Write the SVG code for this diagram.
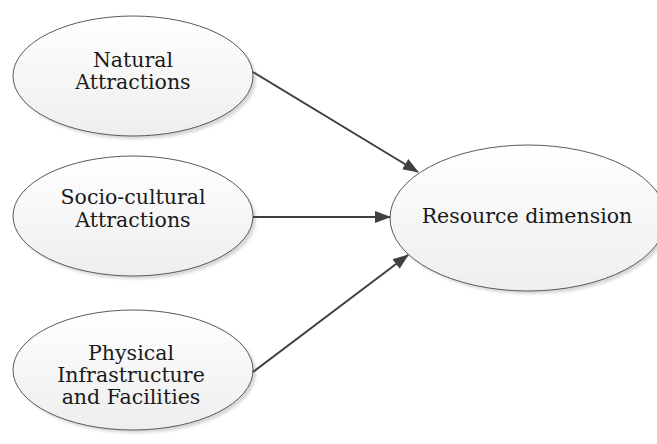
<svg xmlns="http://www.w3.org/2000/svg" width="657" height="444" viewBox="0 0 657 444">
  <style>
    .node { fill: url(#nodeFill); stroke: #5a5a5a; stroke-width: 1; }
    .shadow { fill: #d6d6d6; filter: url(#soft); }
    .label { font-family: "DejaVu Serif", "Liberation Serif", serif; font-size: 20.5px; fill: #1a1a1a; text-anchor: middle; }
    .edge { stroke: #404040; stroke-width: 2; fill: none; marker-end: url(#arrow); }
  </style>
  <defs>
    <linearGradient id="nodeFill" x1="0" y1="0" x2="0" y2="1">
      <stop offset="0" stop-color="#ffffff"/>
      <stop offset="1" stop-color="#eeeeee"/>
    </linearGradient>
    <filter id="soft" x="-10%" y="-10%" width="120%" height="120%">
      <feGaussianBlur stdDeviation="1.5"/>
    </filter>
    <marker id="arrow" markerWidth="8" markerHeight="6" refX="7.5" refY="3" orient="auto" markerUnits="strokeWidth">
      <path d="M0,0 L8,3 L0,6 Z" fill="#404040"/>
    </marker>
  </defs>

  <rect width="657" height="444" fill="#ffffff"/>

  <g id="natural-attractions">
    <ellipse class="shadow" cx="136" cy="79" rx="120" ry="60"/>
    <ellipse class="node" cx="133" cy="76" rx="120" ry="60"/>
    <text class="label" x="133" y="67">Natural</text>
    <text class="label" x="133" y="89">Attractions</text>
  </g>

  <g id="socio-cultural-attractions">
    <ellipse class="shadow" cx="136" cy="219" rx="120" ry="60"/>
    <ellipse class="node" cx="133" cy="216" rx="120" ry="60"/>
    <text class="label" x="133" y="204">Socio-cultural</text>
    <text class="label" x="133" y="227">Attractions</text>
  </g>

  <g id="physical-infrastructure">
    <ellipse class="shadow" cx="136" cy="373" rx="120" ry="60"/>
    <ellipse class="node" cx="133" cy="370" rx="120" ry="60"/>
    <text class="label" x="131" y="360">Physical</text>
    <text class="label" x="131" y="382">Infrastructure</text>
    <text class="label" x="131" y="404">and Facilities</text>
  </g>

  <g id="resource-dimension">
    <ellipse class="shadow" cx="531" cy="221" rx="138" ry="73"/>
    <ellipse class="node" cx="528" cy="218" rx="138" ry="73"/>
    <text class="label" x="527" y="223">Resource dimension</text>
  </g>

  <g id="connectors">
    <line class="edge" x1="253" y1="72" x2="418" y2="172"/>
    <line class="edge" x1="253" y1="217" x2="390" y2="217"/>
    <line class="edge" x1="253" y1="372" x2="408" y2="255"/>
  </g>
</svg>
